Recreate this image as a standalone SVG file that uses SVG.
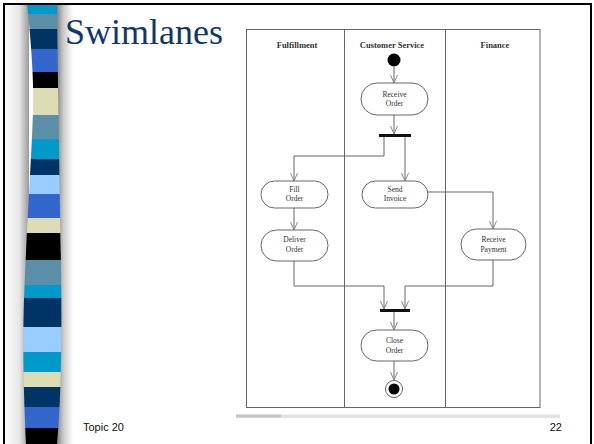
<svg xmlns="http://www.w3.org/2000/svg" width="594" height="444" viewBox="0 0 594 444">
  <defs>
    <style>
      .lane-title { font-family: "Liberation Serif", "DejaVu Serif", serif; font-size: 8.5px; font-weight: bold; fill: #333; text-anchor: middle; }
      .node-text { font-family: "Liberation Serif", "DejaVu Serif", serif; font-size: 7.5px; fill: #333; text-anchor: middle; }
      .action { fill: #fff; stroke: #666; stroke-width: 1; }
      .lane { fill: none; stroke: #666; stroke-width: 1; }
      .flow { fill: none; stroke: #666; stroke-width: 1; marker-end: url(#arrow); }
      .bar { fill: #111; }
      .footer { font-family: "Liberation Sans", Arial, sans-serif; font-size: 11px; fill: #111; }
    </style>
    <marker id="arrow" markerUnits="userSpaceOnUse" markerWidth="10" markerHeight="10" refX="8" refY="5" orient="auto">
      <path d="M0,1.5 L8,5 L0,8.5" fill="none" stroke="#888" stroke-width="1"/>
    </marker>
    <linearGradient id="shadeLeft" x1="0" y1="0" x2="1" y2="0">
      <stop offset="0" stop-color="#fdfdfd"/>
      <stop offset="0.6" stop-color="#e6e6e6"/>
      <stop offset="1" stop-color="#9a9a9a"/>
    </linearGradient>
    <linearGradient id="shadeRight" x1="0" y1="0" x2="1" y2="0">
      <stop offset="0" stop-color="#6f6f6f"/>
      <stop offset="0.45" stop-color="#c8c8c8"/>
      <stop offset="1" stop-color="#ffffff"/>
    </linearGradient>
    <clipPath id="ribbon">
      <path d="M27,4 C31,40 34,80 33,110 C32,150 27,220 24,300 C22,360 25,420 26,444 L57,444 C61,400 62,340 61,270 C60,200 58,100 57,4 Z"/>
    </clipPath>
  </defs>

  <!-- slide background and frame -->
  <rect x="0" y="0" width="594" height="444" fill="#fff"/>
  <rect x="5" y="5" width="24" height="439" fill="url(#shadeLeft)"/>
  <rect x="55" y="5" width="18" height="439" fill="url(#shadeRight)"/>

  <!-- striped ribbon -->
  <g id="ribbon-stripes" clip-path="url(#ribbon)">
    <rect x="20" y="4" width="45" height="10" fill="#0099cc"/>
    <rect x="20" y="14" width="45" height="15" fill="#5b8fa8"/>
    <rect x="20" y="29" width="45" height="20" fill="#003366"/>
    <rect x="20" y="49" width="45" height="23" fill="#3366cc"/>
    <rect x="20" y="72" width="45" height="16" fill="#000000"/>
    <rect x="20" y="88" width="45" height="27" fill="#ddddb5"/>
    <rect x="20" y="115" width="45" height="24" fill="#5b8fa8"/>
    <rect x="20" y="139" width="45" height="20" fill="#0099cc"/>
    <rect x="20" y="159" width="45" height="16" fill="#003366"/>
    <rect x="20" y="175" width="45" height="19" fill="#99ccff"/>
    <rect x="20" y="194" width="45" height="24" fill="#3366cc"/>
    <rect x="20" y="218" width="45" height="15" fill="#ddddb5"/>
    <rect x="20" y="233" width="45" height="27" fill="#000000"/>
    <rect x="20" y="260" width="45" height="25" fill="#5b8fa8"/>
    <rect x="20" y="285" width="45" height="13" fill="#0099cc"/>
    <rect x="20" y="298" width="45" height="29" fill="#003366"/>
    <rect x="20" y="327" width="45" height="25" fill="#99ccff"/>
    <rect x="20" y="352" width="45" height="20" fill="#0099cc"/>
    <rect x="20" y="372" width="45" height="15" fill="#ddddb5"/>
    <rect x="20" y="387" width="45" height="20" fill="#003366"/>
    <rect x="20" y="407" width="45" height="21" fill="#3366cc"/>
    <rect x="20" y="428" width="45" height="16" fill="#000000"/>
  </g>

  <rect x="4" y="4" width="587" height="450" fill="none" stroke="#000" stroke-width="2"/>

  <!-- slide title and footer -->
  <text x="65" y="44" font-family="'Liberation Serif', 'Times New Roman', serif" font-size="36" fill="#12386b">Swimlanes</text>
  <text class="footer" x="83" y="431">Topic 20</text>
  <text class="footer" x="562" y="431" text-anchor="end">22</text>

  <!-- strip below the pasted diagram -->
  <rect x="236" y="414.5" width="324" height="3.5" fill="#e2e2e2"/>
  <rect x="236" y="414.5" width="45" height="3" fill="#b8b8b8" opacity="0.7"/>

  <!-- swimlanes -->
  <g id="lanes">
    <rect class="lane" x="246.5" y="29.5" width="293.5" height="378"/>
    <line class="lane" x1="344.5" y1="29.5" x2="344.5" y2="407.5"/>
    <line class="lane" x1="445.5" y1="29.5" x2="445.5" y2="407.5"/>
    <text class="lane-title" x="297" y="48">Fulfillment</text>
    <text class="lane-title" x="392" y="48">Customer Service</text>
    <text class="lane-title" x="495" y="48">Finance</text>
  </g>

  <!-- connectors -->
  <g id="connectors">
    <path class="flow" d="M394,67 V83"/>
    <path class="flow" d="M394,115 V134"/>
    <path class="flow" d="M384,137 V156 H294 V181"/>
    <path class="flow" d="M405,137 V181"/>
    <path class="flow" d="M294,208 V230"/>
    <path class="flow" d="M428,192 H493 V229"/>
    <path class="flow" d="M294,261 V286 H384 V309"/>
    <path class="flow" d="M493,260 V286 H405 V309"/>
    <path class="flow" d="M394,312 V330"/>
    <path class="flow" d="M394,361 V380"/>
  </g>

  <!-- nodes -->
  <g id="start">
    <circle cx="394" cy="60" r="6.5" fill="#000"/>
  </g>
  <g id="receive-order">
    <rect class="action" x="361" y="83" width="67" height="32" rx="16"/>
    <text class="node-text" x="394.5" y="97">Receive</text>
    <text class="node-text" x="394.5" y="106">Order</text>
  </g>
  <g id="fork">
    <rect class="bar" x="379" y="134" width="32" height="3"/>
  </g>
  <g id="fill-order">
    <rect class="action" x="261" y="181" width="67" height="27" rx="13.5"/>
    <text class="node-text" x="294.5" y="192">Fill</text>
    <text class="node-text" x="294.5" y="201">Order</text>
  </g>
  <g id="send-invoice">
    <rect class="action" x="362" y="181" width="66" height="27" rx="13.5"/>
    <text class="node-text" x="395" y="192">Send</text>
    <text class="node-text" x="395" y="201">Invoice</text>
  </g>
  <g id="deliver-order">
    <rect class="action" x="261" y="230" width="67" height="31" rx="15.5"/>
    <text class="node-text" x="294.5" y="242">Deliver</text>
    <text class="node-text" x="294.5" y="252">Order</text>
  </g>
  <g id="receive-payment">
    <rect class="action" x="461" y="229" width="65" height="31" rx="15.5"/>
    <text class="node-text" x="493.5" y="242">Receive</text>
    <text class="node-text" x="493.5" y="252">Payment</text>
  </g>
  <g id="join">
    <rect class="bar" x="380" y="309" width="30" height="3"/>
  </g>
  <g id="close-order">
    <rect class="action" x="361" y="330" width="67" height="31" rx="15.5"/>
    <text class="node-text" x="394.5" y="343">Close</text>
    <text class="node-text" x="394.5" y="353">Order</text>
  </g>
  <g id="end">
    <circle cx="394" cy="389" r="8.5" fill="#fff" stroke="#666" stroke-width="1"/>
    <circle cx="394" cy="389" r="5.5" fill="#000"/>
  </g>
</svg>
